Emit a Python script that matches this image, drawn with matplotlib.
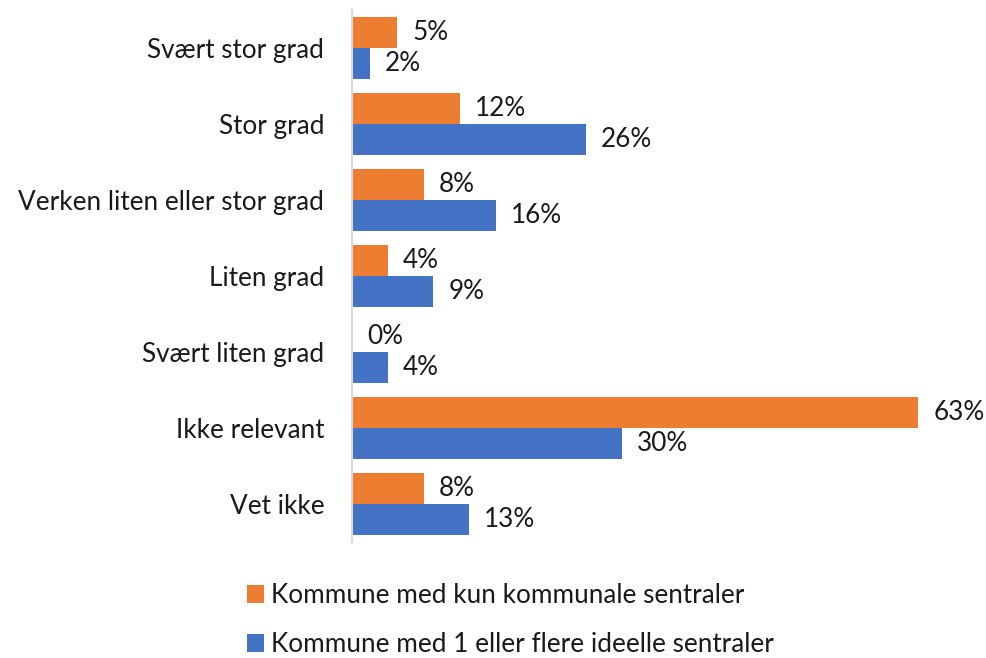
import matplotlib.pyplot as plt
import numpy as np

plt.rcParams['font.family'] = ['Lato', 'DejaVu Sans']

categories = ["Svært stor grad", "Stor grad", "Verken liten eller stor grad",
              "Liten grad", "Svært liten grad", "Ikke relevant", "Vet ikke"]
kommunale = [5, 12, 8, 4, 0, 63, 8]
ideelle = [2, 26, 16, 9, 4, 30, 13]
series_names = ["Kommune med kun kommunale sentraler",
                "Kommune med 1 eller flere ideelle sentraler"]

orange = "#ED7D31"
blue = "#4472C4"
txt = "#1a1a1a"
fs = 18.8

fig = plt.figure(figsize=(9.87, 6.58), dpi=100)
ax = fig.add_axes([352 / 987, 116 / 658, 566 / 987, 532 / 658])

y = np.arange(len(categories))
h = 0.41
b1 = ax.barh(y - h / 2, kommunale, height=h, color=orange, label=series_names[0])
b2 = ax.barh(y + h / 2, ideelle, height=h, color=blue, label=series_names[1])

for bars, vals in ((b1, kommunale), (b2, ideelle)):
    for rect, v in zip(bars, vals):
        ax.annotate(f"{v}%", (v, rect.get_y() + rect.get_height() / 2),
                    xytext=(11, 0), textcoords="offset points",
                    va="center", ha="left", fontsize=fs, color=txt)

ax.set_xlim(0, 63)
ax.set_ylim(len(categories) - 0.5, -0.5)
ax.set_yticks(y)
ax.set_yticklabels(categories, fontsize=fs, color=txt)
ax.tick_params(axis="y", length=0, pad=20)
ax.set_xticks([])
for s in ["top", "right", "bottom"]:
    ax.spines[s].set_visible(False)
ax.spines["left"].set_color("#D9D9D9")
ax.spines["left"].set_linewidth(1.5)

leg = fig.legend(handles=[b1, b2], loc="upper left",
                 bbox_to_anchor=(234 / 987, 1 - 570 / 658),
                 frameon=False, fontsize=fs, handlelength=0.65, handleheight=0.65,
                 handletextpad=0.25, labelspacing=0.92, borderpad=0)
for t in leg.get_texts():
    t.set_color(txt)

fig.savefig("out.png", dpi=100)
